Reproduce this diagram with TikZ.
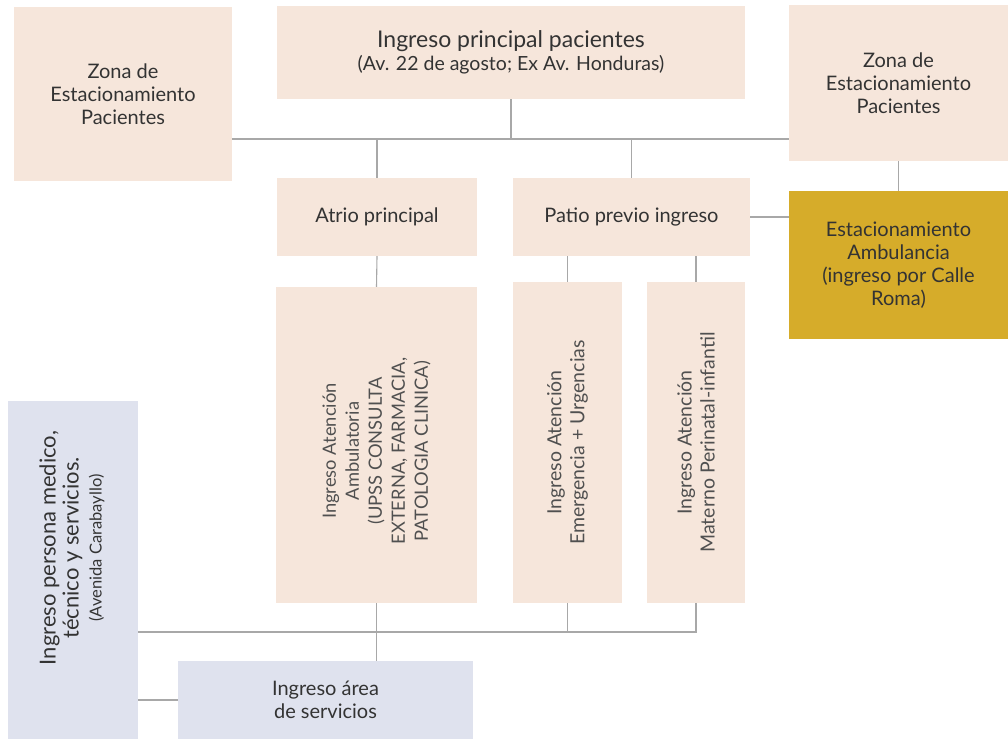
\documentclass[tikz,border=0pt]{standalone}
\usepackage{fontspec}
\setmainfont{Lato}
\definecolor{peach}{HTML}{F6E6DB}
\definecolor{gold}{HTML}{D6AC2A}
\definecolor{bluegray}{HTML}{DFE2EE}
\definecolor{linegray}{HTML}{A8A8A8}
\definecolor{txt}{HTML}{333333}
\definecolor{txtl}{HTML}{505050}
\tikzset{
  box/.style={fill=peach, draw=none, inner sep=0pt, align=center, text=txt, font=\fontsize{20}{23}\selectfont},
  goldbox/.style={box, fill=gold, text=black!80},
  bluebox/.style={box, fill=bluegray},
  conn/.style={draw=linegray, line width=1.1pt},
  vtext/.style={rotate=90, align=center, text=txtl, font=\fontsize{19.5}{23}\selectfont, inner sep=0pt}
}
\begin{document}
\begin{tikzpicture}[x=1pt,y=-1pt]
\useasboundingbox (0,0) rectangle (1008,738);
\fill[white] (0,0) rectangle (1008,738);
% boxes
\node[box, minimum width=218pt, minimum height=174pt] (ZEPL) at (123,94) {Zona de\\Estacionamiento\\Pacientes};
\node[box, minimum width=468pt, minimum height=93pt] (IP) at (511,52.5) {{\fontsize{23}{25}\selectfont Ingreso principal pacientes}\\{\fontsize{19.5}{22}\selectfont (Av. 22 de agosto; Ex Av. Honduras)}};
\node[box, minimum width=219pt, minimum height=156pt] (ZEPR) at (898.5,83) {Zona de\\Estacionamiento\\Pacientes};
\node[goldbox, minimum width=219pt, minimum height=148pt] (AMB) at (898.5,265) {Estacionamiento\\Ambulancia\\(ingreso por Calle\\Roma)};
\node[box, minimum width=200pt, minimum height=78pt] (ATRIO) at (377,217) {Atrio principal};
\node[box, minimum width=237pt, minimum height=78pt] (PATIO) at (631.5,217) {Patio previo ingreso};
\node[box, minimum width=201pt, minimum height=316pt] (AMBUL) at (376.5,445) {};
\node[vtext, font=\fontsize{18.3}{23}\selectfont] (AMBULt) at (376.5,451) {Ingreso Atención\\Ambulatoria\\(UPSS CONSULTA\\EXTERNA, FARMACIA,\\PATOLOGIA CLINICA)};
\node[box, minimum width=109pt, minimum height=321pt] (EMERG) at (567.5,442.5) {};
\node[vtext] (EMERGt) at (567.5,442.5) {Ingreso Atención\\Emergencia + Urgencias};
\node[box, minimum width=98pt, minimum height=321pt] (MATER) at (696,442.5) {};
\node[vtext] (MATERt) at (696,442.5) {Ingreso Atención\\Materno Perinatal-infantil};
\node[bluebox, minimum width=130pt, minimum height=340pt] (PERS) at (73,571) {};
\node[vtext, text=txt] (PERSt) at (72,548) {{\fontsize{22}{24}\selectfont Ingreso persona medico,}\\{\fontsize{22}{24}\selectfont técnico y servicios.}\\{\fontsize{16.5}{22}\selectfont (Avenida Carabayllo)}};
\node[bluebox, minimum width=295pt, minimum height=78pt] (SERV) at (325.5,700) {Ingreso área\\de servicios};
% connectors
\coordinate (busT) at (0,139);
\coordinate (busB) at (0,632);
\draw[conn] (ZEPL.east |- busT) -- (ZEPR.west |- busT);
\draw[conn] (IP.south) -- (IP.south |- busT);
\draw[conn] (ATRIO.north) -- (ATRIO.north |- busT);
\draw[conn] (PATIO.north) -- (PATIO.north |- busT);
\draw[conn] (ZEPR.south) -- (AMB.north);
\draw[conn] (PATIO.east) -- (AMB.west |- PATIO.east);
\draw[conn] (ATRIO.south) -- (AMBUL.north);
\draw[conn] (PATIO.south -| EMERG.north) -- (EMERG.north);
\draw[conn] (PATIO.south -| MATER.north) -- (MATER.north);
\draw[conn] (PERS.east |- busB) -- (MATER.south |- busB) -- (MATER.south);
\draw[conn] (EMERG.south) -- (EMERG.south |- busB);
\draw[conn] (AMBUL.south) -- (AMBUL.south |- SERV.north);
\draw[conn] (PERS.east |- SERV.west) -- (SERV.west);
\end{tikzpicture}
\end{document}
